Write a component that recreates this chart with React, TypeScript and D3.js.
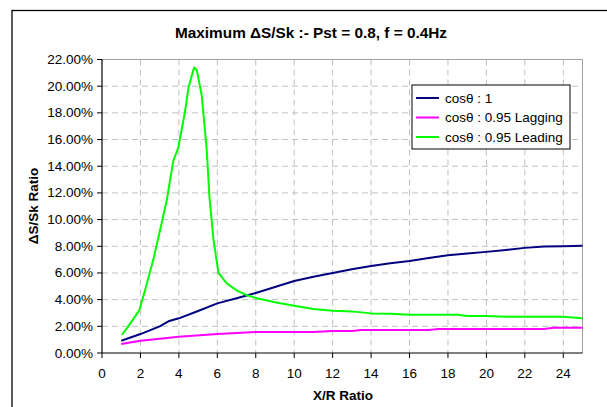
import React from "react";
import * as d3 from "d3";

const title = "Maximum ΔS/Sk :- Pst = 0.8, f = 0.4Hz";
const xLabel = "X/R Ratio";
const yLabel = "ΔS/Sk Ratio";
const xTicks = [0, 2, 4, 6, 8, 10, 12, 14, 16, 18, 20, 22, 24];
const yTicks = [0, 2, 4, 6, 8, 10, 12, 14, 16, 18, 20, 22];

const seriesNames = ["cosθ : 1", "cosθ : 0.95 Lagging", "cosθ : 0.95 Leading"];
const seriesColors = ["#000080", "#ff00ff", "#00ff00"];

const unityX = [1, 2, 3, 3.5, 4, 5, 6, 7, 8, 9, 10, 11, 12, 13, 14, 15, 16, 17, 18, 19, 20, 21, 22, 23, 24, 25];
const unityY = [0.92, 1.42, 2.0, 2.4, 2.6, 3.15, 3.72, 4.1, 4.5, 4.95, 5.4, 5.72, 6.0, 6.28, 6.52, 6.72, 6.9, 7.12, 7.32, 7.45, 7.58, 7.72, 7.88, 7.98, 8.0, 8.03];

const lagX = [1, 2, 4, 6, 8, 10, 11, 12, 13, 13.5, 14, 16, 17, 17.5, 19, 21, 23, 23.5, 25];
const lagY = [0.67, 0.92, 1.22, 1.42, 1.57, 1.57, 1.57, 1.65, 1.65, 1.72, 1.72, 1.72, 1.72, 1.8, 1.8, 1.8, 1.8, 1.9, 1.9];

const leadX = [1.04, 1.29, 1.94, 2.24, 2.67, 3.02, 3.37, 3.71, 3.97, 4.32, 4.5, 4.79, 4.93, 5.19, 5.45, 5.59, 5.8, 6.06, 6.5, 7.0, 7.5, 8.06, 9.0, 10, 11, 12, 13, 14, 15, 16, 17, 18, 18.5, 19, 20, 21, 22, 23, 24, 25];
const leadY = [1.35, 1.85, 3.2, 4.7, 7.0, 9.2, 11.45, 14.4, 15.4, 18.1, 19.9, 21.4, 21.2, 19.3, 15.2, 11.7, 8.5, 6.0, 5.2, 4.7, 4.35, 4.1, 3.8, 3.54, 3.3, 3.17, 3.12, 2.97, 2.95, 2.87, 2.87, 2.87, 2.87, 2.77, 2.77, 2.72, 2.72, 2.72, 2.72, 2.6];

const seriesX = [unityX, lagX, leadX];
const seriesY = [unityY, lagY, leadY];

export default function App() {
  const W = 607, H = 407;
  const left = 102, right = 582.5, top = 59.5, bottom = 353;
  const x = d3.scaleLinear().domain([0, 25]).range([left, right]);
  const y = d3.scaleLinear().domain([0, 22]).range([bottom, top]);
  const line = d3.line<[number, number]>().x(d => x(d[0])).y(d => y(d[1]));
  const font = "'Liberation Sans', Arial, sans-serif";
  const grid = "#c0c0c0";

  return (
    <svg width={W} height={H} style={{ position: "absolute", left: 0, top: 0 }} fontFamily={font}>
      <rect x={0} y={0} width={W} height={H} fill="#fff" />
      <rect x={12} y={10.5} width={W + 10} height={H + 10} fill="none" stroke="#000" strokeWidth={1.3} />
      <text x={311} y={38} textAnchor="middle" fontSize={15} fontWeight="bold" textLength={272} lengthAdjust="spacingAndGlyphs">{title}</text>
      {/* gridlines */}
      {yTicks.filter(t => t > 0 && t < 22).map(t => (
        <line key={"gy" + t} x1={left} x2={right} y1={y(t)} y2={y(t)} stroke={grid} strokeDasharray="6,4" />
      ))}
      {xTicks.filter(t => t > 0).map(t => (
        <line key={"gx" + t} x1={x(t)} x2={x(t)} y1={top} y2={bottom} stroke={grid} strokeDasharray="6,4" />
      ))}
      <line x1={left} x2={right} y1={top} y2={top} stroke="#a0a0a0" />
      <line x1={right} x2={right} y1={top} y2={bottom} stroke="#a0a0a0" />
      {/* series */}
      {seriesX.map((xs, i) => (
        <path key={"s" + i} d={line(xs.map((v, j) => [v, seriesY[i][j]]) as [number, number][]) || ""} fill="none" stroke={seriesColors[i]} strokeWidth={2} strokeLinejoin="round" />
      ))}
      {/* axes */}
      <line x1={left} x2={left} y1={top} y2={bottom} stroke="#000" strokeWidth={1.2} />
      <line x1={left} x2={right} y1={bottom} y2={bottom} stroke="#000" strokeWidth={1.2} />
      {yTicks.map(t => (
        <g key={"yt" + t}>
          <line x1={left - 5} x2={left} y1={y(t)} y2={y(t)} stroke="#000" />
          <text x={93} y={y(t) + 4.5} textAnchor="end" fontSize={13.5}>{t.toFixed(2) + "%"}</text>
        </g>
      ))}
      {xTicks.map(t => (
        <g key={"xt" + t}>
          <line x1={x(t)} x2={x(t)} y1={bottom} y2={bottom + 5} stroke="#000" />
          <text x={x(t)} y={378} textAnchor="middle" fontSize={13.5}>{t}</text>
        </g>
      ))}
      <text x={343} y={400} textAnchor="middle" fontSize={13.5} fontWeight="bold">{xLabel}</text>
      <text transform="translate(38,206) rotate(-90)" textAnchor="middle" fontSize={13.5} fontWeight="bold">{yLabel}</text>
      {/* legend */}
      <rect x={412} y={85} width={158} height={64} fill="#fff" stroke="#000" />
      {seriesNames.map((n, i) => (
        <g key={"lg" + i}>
          <line x1={416} x2={439} y1={98 + i * 19.5} y2={98 + i * 19.5} stroke={seriesColors[i]} strokeWidth={2} />
          <text x={445} y={102.5 + i * 19.5} fontSize={13.5}>{n}</text>
        </g>
      ))}
    </svg>
  );
}
